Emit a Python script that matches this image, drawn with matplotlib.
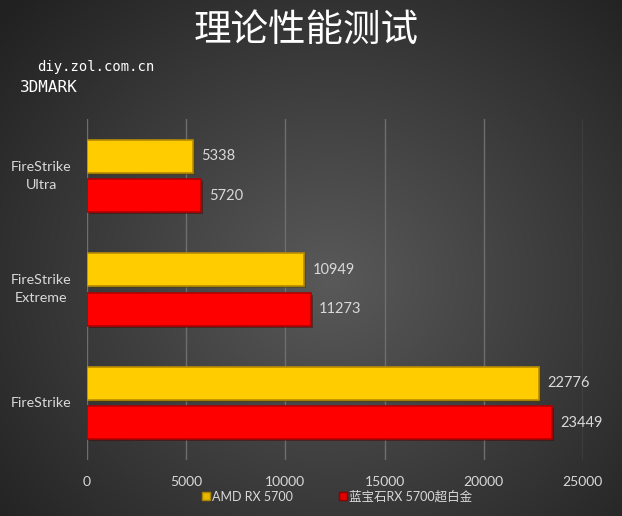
import numpy as np
import matplotlib
matplotlib.use('Agg')
import matplotlib.pyplot as plt
import matplotlib.patheffects as pe
from matplotlib.lines import Line2D

categories = ['FireStrike\nUltra', 'FireStrike\nExtreme', 'FireStrike']
series_names = ['AMD RX 5700', '蓝宝石RX 5700超白金']
amd = [5338, 10949, 22776]
sapphire = [5720, 11273, 23449]
xticks = [0, 5000, 10000, 15000, 20000, 25000]

txt = '#d9d9d9'
fam = ['Lato', 'Noto Sans CJK SC', 'DejaVu Sans']

fig = plt.figure(figsize=(6.22, 5.16), dpi=100)

# radial gradient background
bg = fig.add_axes([0, 0, 1, 1], zorder=-10)
yy, xx = np.mgrid[0:516, 0:622]
r = np.sqrt(((xx - 330) / 420.0) ** 2 + ((yy - 280) / 380.0) ** 2)
shade = np.clip(0.35 - 0.21 * r, 0.13, 0.35)
bg.imshow(np.dstack([shade] * 3), aspect='auto', extent=[0, 1, 0, 1], origin='upper')
bg.set_axis_off()

ax = fig.add_axes([0.140, 0.109, 0.797, 0.660])
ax.patch.set_alpha(0)
y = np.arange(len(categories))
h = 0.29
off = 0.175
shadow = [pe.SimplePatchShadow(offset=(1.5, -1.5), alpha=0.45), pe.Normal()]
b1 = ax.barh(y - off, amd, height=h, color='#ffcc00', edgecolor='#b88c00', linewidth=1.2, zorder=3)
b2 = ax.barh(y + off, sapphire, height=h, color='#ff0000', edgecolor='#b30000', linewidth=1.2, zorder=3)
for b in list(b1) + list(b2):
    b.set_path_effects(shadow)

for bars, vals in ((b1, amd), (b2, sapphire)):
    for b, v in zip(bars, vals):
        ax.annotate(str(v), xy=(v, b.get_y() + b.get_height() / 2), xytext=(6, 0),
                    textcoords='offset points', va='center', ha='left',
                    color=txt, fontsize=10.5, family=fam)

ax.set_xlim(0, 25000)
ax.set_ylim(len(categories) - 0.5, -0.5)
ax.set_xticks(xticks)
ax.set_xticklabels([str(t) for t in xticks], color=txt, fontsize=10, family=fam)
ax.set_yticks(y)
ax.set_yticklabels(categories, color=txt, fontsize=10.3, family=fam, ha='center', ma='center',
                   linespacing=1.6, va='center')
ax.tick_params(axis='y', length=0, pad=33)
ax.tick_params(axis='x', length=0, pad=12)
ax.grid(axis='x', color='#6e6e6e', linewidth=1, zorder=0)
for s in ax.spines.values():
    s.set_visible(False)

handles = [Line2D([], [], marker='s', ls='', color='#e6b800', markeredgecolor='#a88400', markersize=6),
           Line2D([], [], marker='s', ls='', color='#e00000', markeredgecolor='#900000', markersize=6)]
leg = fig.legend(handles, series_names, loc='center', bbox_to_anchor=(0.541, 0.038), ncol=2,
                 frameon=False, handletextpad=0.05, columnspacing=3.6, handlelength=0.8,
                 prop={'family': fam, 'size': 9})
for t in leg.get_texts():
    t.set_color(txt)

fig.text(0.493, 0.942, '理论性能测试', ha='center', va='center', color='white',
         fontsize=27, family=['Noto Sans CJK SC'])
fig.text(0.059, 0.870, 'diy.zol.com.cn', ha='left', va='center', color='white',
         fontsize=10, family='DejaVu Sans Mono')
fig.text(0.032, 0.831, '3DMARK', ha='left', va='center', color='white',
         fontsize=11.5, family='DejaVu Sans Mono')

plt.savefig('out.png', dpi=100)
